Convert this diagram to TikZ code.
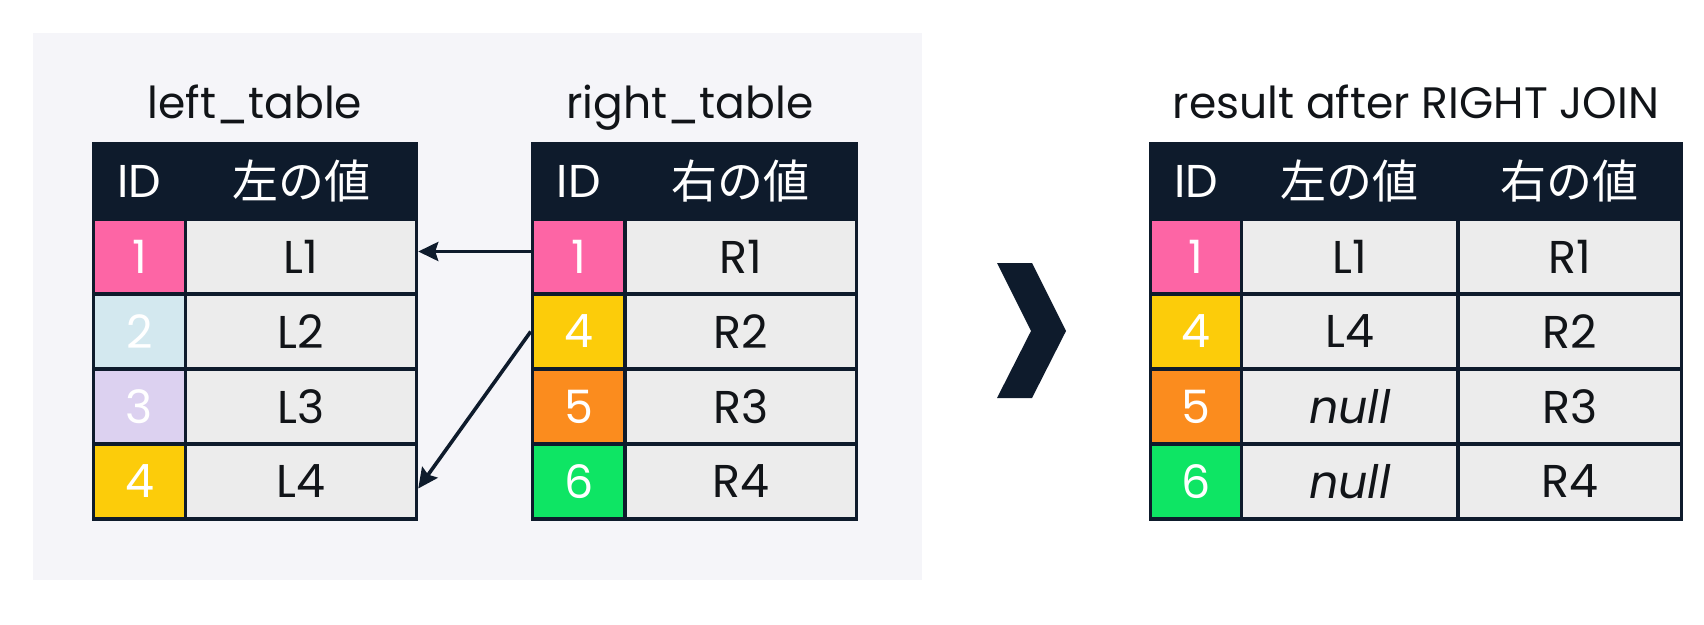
\documentclass[tikz,border=0pt]{standalone}
\usepackage{fontspec}
\setmainfont{Poppins}
\newfontfamily\cjk{Noto Sans CJK JP}
\usepackage{tikz}
\usetikzlibrary{arrows.meta,positioning}

\definecolor{navy}{HTML}{0E1B2C}
\definecolor{panelgray}{HTML}{F5F5F9}
\definecolor{cellgray}{HTML}{ECECEC}
\definecolor{idpink}{HTML}{FD65A5}
\definecolor{idblue}{HTML}{D3E8EF}
\definecolor{idlilac}{HTML}{DCD1F0}
\definecolor{idyellow}{HTML}{FCCC0A}
\definecolor{idorange}{HTML}{FB8C1E}
\definecolor{idgreen}{HTML}{0EE564}
\definecolor{inkblack}{HTML}{111418}

\tikzset{
	cell/.style={draw=navy, line width=3.5pt, minimum height=75pt, inner sep=0pt, font=\fontsize{46}{50}\selectfont},
	headcell/.style={cell, fill=navy, text=white},
	idcell/.style={cell, fill=#1, text=white, minimum width=92pt},
	valcell/.style={cell, fill=cellgray, text=inkblack},
	tabletitle/.style={text=inkblack, font=\fontsize{44}{50}\selectfont, anchor=base},
	linkarrow/.style={-{Stealth[length=20pt,width=19pt,inset=3pt]}, draw=navy, line width=3.6pt},
}

\begin{document}
\begin{tikzpicture}[x=1pt,y=-1pt]
	\useasboundingbox (0,0) rectangle (1704,624);
	\fill [panelgray] (33,33) rectangle (922,580);
	% left_table
	\node [tabletitle] (lt) at (255,118) {left\_table};
	\node [headcell, minimum width=92pt] (lh0) at (139.5,181) {ID};
	\node [headcell, minimum width=231pt] (lh1) at (301,181) {\cjk 左の値};
	\node [idcell=idpink] (l1i) at (139.5,256.5) {1};
	\node [valcell, minimum width=231pt] (l1v) at (301,256.5) {L1};
	\node [idcell=idblue] (l2i) at (139.5,331.5) {2};
	\node [valcell, minimum width=231pt] (l2v) at (301,331.5) {L2};
	\node [idcell=idlilac] (l3i) at (139.5,406.5) {3};
	\node [valcell, minimum width=231pt] (l3v) at (301,406.5) {L3};
	\node [idcell=idyellow] (l4i) at (139.5,481.5) {4};
	\node [valcell, minimum width=231pt] (l4v) at (301,481.5) {L4};
	% right_table
	\node [tabletitle] (rt) at (690,118) {right\_table};
	\node [headcell, minimum width=92.5pt] (rh0) at (578.75,181) {ID};
	\node [headcell, minimum width=231.5pt] (rh1) at (740.75,181) {\cjk 右の値};
	\node [idcell=idpink, minimum width=92.5pt] (r1i) at (578.75,256.5) {1};
	\node [valcell, minimum width=231.5pt] (r1v) at (740.75,256.5) {R1};
	\node [idcell=idyellow, minimum width=92.5pt] (r2i) at (578.75,331.5) {4};
	\node [valcell, minimum width=231.5pt] (r2v) at (740.75,331.5) {R2};
	\node [idcell=idorange, minimum width=92.5pt] (r3i) at (578.75,406.5) {5};
	\node [valcell, minimum width=231.5pt] (r3v) at (740.75,406.5) {R3};
	\node [idcell=idgreen, minimum width=92.5pt] (r4i) at (578.75,481.5) {6};
	\node [valcell, minimum width=231.5pt] (r4v) at (740.75,481.5) {R4};
	\draw [linkarrow] ([yshift=5pt]r1i.west) -- ([yshift=5pt]l1v.east);
	\draw [linkarrow] (r2i.west) -- ([yshift=-7pt]l4v.east);
	% chevron
	\fill [navy] (997,263) -- (1032,263) -- (1066,331) -- (1032,398) -- (997,398) -- (1031,331) -- cycle;
	% result after RIGHT JOIN
	\node [tabletitle] (st) at (1416,118) {result after RIGHT JOIN};
	\node [headcell, minimum width=91pt] (sh0) at (1196,181) {ID};
	\node [headcell, minimum width=216.5pt] (sh1) at (1349.75,181) {\cjk 左の値};
	\node [headcell, minimum width=223.5pt] (sh2) at (1569.75,181) {\cjk 右の値};
	\node [idcell=idpink, minimum width=91pt] (s1i) at (1196,256.5) {1};
	\node [valcell, minimum width=216.5pt] (s1l) at (1349.75,256.5) {L1};
	\node [valcell, minimum width=223.5pt] (s1r) at (1569.75,256.5) {R1};
	\node [idcell=idyellow, minimum width=91pt] (s2i) at (1196,331.5) {4};
	\node [valcell, minimum width=216.5pt] (s2l) at (1349.75,331.5) {L4};
	\node [valcell, minimum width=223.5pt] (s2r) at (1569.75,331.5) {R2};
	\node [idcell=idorange, minimum width=91pt] (s3i) at (1196,406.5) {5};
	\node [valcell, minimum width=216.5pt] (s3l) at (1349.75,406.5) {\itshape null};
	\node [valcell, minimum width=223.5pt] (s3r) at (1569.75,406.5) {R3};
	\node [idcell=idgreen, minimum width=91pt] (s4i) at (1196,481.5) {6};
	\node [valcell, minimum width=216.5pt] (s4l) at (1349.75,481.5) {\itshape null};
	\node [valcell, minimum width=223.5pt] (s4r) at (1569.75,481.5) {R4};
\end{tikzpicture}
\end{document}
